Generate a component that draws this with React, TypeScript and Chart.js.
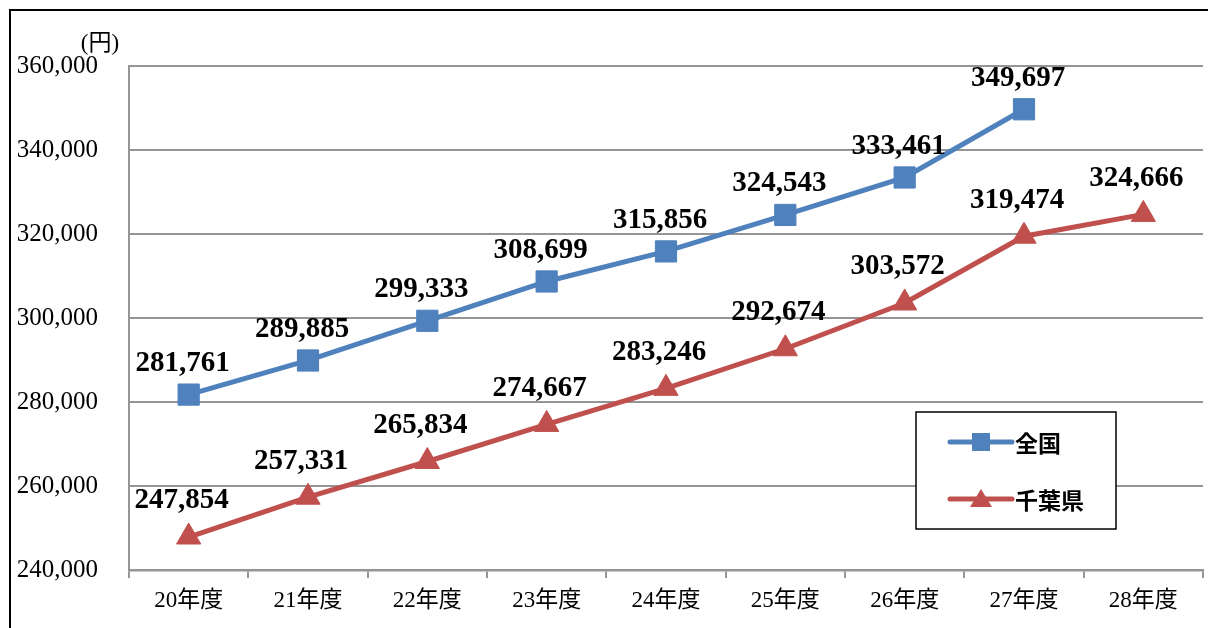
import { useEffect, useRef } from 'react';
import { Chart, registerables } from 'chart.js';

Chart.register(...registerables);

const categories = ['20年度', '21年度', '22年度', '23年度', '24年度', '25年度', '26年度', '27年度', '28年度'];
const seriesNames = ['全国', '千葉県'];
const nationalValues: (number | null)[] = [281761, 289885, 299333, 308699, 315856, 324543, 333461, 349697, null];
const chibaValues: (number | null)[] = [247854, 257331, 265834, 274667, 283246, 292674, 303572, 319474, 324666];
const yMin = 240000;
const yMax = 360000;
const yStep = 20000;
const yUnit = '(円)';

const W = 1200;
const H = 620;
const BLUE = '#4F81BD';
const RED = '#C0504D';
const GRID = '#959595';
const SERIF = '"Liberation Serif", "Noto Sans CJK JP", serif';
const labelOffsets = [
  { dx: -6, dy: -31 },
  { dx: -7, dy: -36 },
];

const fmt = (v: number) => v.toLocaleString('en-US');

const decorPlugin = {
  id: 'decor',
  afterDatasetsDraw(chart: any) {
    const ctx = chart.ctx as CanvasRenderingContext2D;
    ctx.save();
    ctx.fillStyle = '#000';
    ctx.font = `bold 29px ${SERIF}`;
    ctx.textAlign = 'center';
    ctx.textBaseline = 'middle';
    chart.data.datasets.forEach((ds: any, i: number) => {
      const meta = chart.getDatasetMeta(i);
      const off = labelOffsets[i];
      meta.data.forEach((pt: any, j: number) => {
        const v = ds.data[j];
        if (v == null) return;
        ctx.fillText(fmt(v), pt.x + off.dx, pt.y + off.dy);
      });
    });
    ctx.restore();
  },
  afterDraw(chart: any) {
    const ctx = chart.ctx as CanvasRenderingContext2D;
    ctx.save();
    // outer frame
    ctx.strokeStyle = '#000';
    ctx.lineWidth = 2;
    ctx.beginPath();
    ctx.moveTo(W + 10, 2);
    ctx.lineTo(2, 2);
    ctx.lineTo(2, H + 10);
    ctx.stroke();

    // unit label
    ctx.fillStyle = '#000';
    ctx.font = `23px ${SERIF}`;
    ctx.textAlign = 'center';
    ctx.textBaseline = 'middle';
    ctx.fillText(yUnit, 92, 36);

    // legend
    const bx = 908, by = 404, bw = 200, bh = 117;
    ctx.fillStyle = '#fff';
    ctx.fillRect(bx, by, bw, bh);
    ctx.strokeStyle = '#000';
    ctx.lineWidth = 1.5;
    ctx.strokeRect(bx, by, bw, bh);
    const rows = [by + 30, by + 87];
    const colors = [BLUE, RED];
    chart.data.datasets.forEach((ds: any, i: number) => {
      const y = rows[i];
      ctx.strokeStyle = colors[i];
      ctx.lineWidth = 5;
      ctx.lineCap = 'round';
      ctx.beginPath();
      ctx.moveTo(bx + 34, y);
      ctx.lineTo(bx + 96, y);
      ctx.stroke();
      ctx.fillStyle = colors[i];
      const cx = bx + 65;
      if (i === 0) {
        ctx.fillRect(cx - 9, y - 9, 18, 18);
      } else {
        ctx.beginPath();
        ctx.moveTo(cx, y - 10);
        ctx.lineTo(cx + 11, y + 8);
        ctx.lineTo(cx - 11, y + 8);
        ctx.closePath();
        ctx.fill();
      }
      ctx.fillStyle = '#000';
      ctx.font = `bold 23px "Noto Sans CJK JP", sans-serif`;
      ctx.textAlign = 'left';
      ctx.textBaseline = 'middle';
      ctx.fillText(ds.label, bx + 99, y + 1);
    });
    ctx.restore();
  },
};

export default function App() {
  const ref = useRef<HTMLCanvasElement | null>(null);
  useEffect(() => {
    if (!ref.current) return;
    const chart = new Chart(ref.current, {
      type: 'line',
      data: {
        labels: categories,
        datasets: [
          {
            label: seriesNames[0],
            data: nationalValues,
            borderColor: BLUE,
            backgroundColor: BLUE,
            borderWidth: 5,
            pointStyle: 'rect',
            pointRadius: 15,
            pointBorderWidth: 1,
            pointBorderColor: BLUE,
            pointBackgroundColor: BLUE,
            tension: 0,
          },
          {
            label: seriesNames[1],
            data: chibaValues,
            borderColor: RED,
            backgroundColor: RED,
            borderWidth: 5,
            pointStyle: 'triangle',
            pointRadius: 14,
            pointBorderWidth: 1,
            pointBorderColor: RED,
            pointBackgroundColor: RED,
            tension: 0,
          },
        ],
      },
      options: {
        animation: false,
        responsive: false,
        devicePixelRatio: 1,
        layout: { autoPadding: false, padding: { left: 0, top: 58, right: 5, bottom: 0 } },
        plugins: { legend: { display: false }, tooltip: { enabled: false } },
        scales: {
          x: {
            offset: true,
            grid: {
              drawOnChartArea: false,
              drawTicks: true,
              tickLength: 8,
              color: GRID,
              lineWidth: 2,
              offset: true,
            },
            border: { color: GRID, width: 2.5 },
            ticks: {
              color: '#000',
              font: { family: SERIF, size: 23 },
              padding: 9,
              maxRotation: 0,
              autoSkip: false,
            },
            afterFit: (s: any) => {
              s.height = 58;
              s.paddingLeft = 0;
              s.paddingRight = 0;
            },
          },
          y: {
            min: yMin,
            max: yMax,
            grid: { color: GRID, lineWidth: 2, drawTicks: false },
            border: { color: GRID, width: 2 },
            ticks: {
              stepSize: yStep,
              color: '#000',
              font: { family: SERIF, size: 25 },
              padding: 31,
              callback: (v: any) => fmt(Number(v)),
            },
            afterFit: (s: any) => {
              s.width = 121;
              s.paddingTop = 0;
              s.paddingBottom = 0;
            },
          },
        },
      },
      plugins: [decorPlugin],
    });
    return () => chart.destroy();
  }, []);
  return (
    <div style={{ position: 'absolute', left: 8, top: 8, width: W, height: H }}>
      <canvas ref={ref} width={W} height={H} style={{ display: 'block', width: W, height: H }} />
    </div>
  );
}
